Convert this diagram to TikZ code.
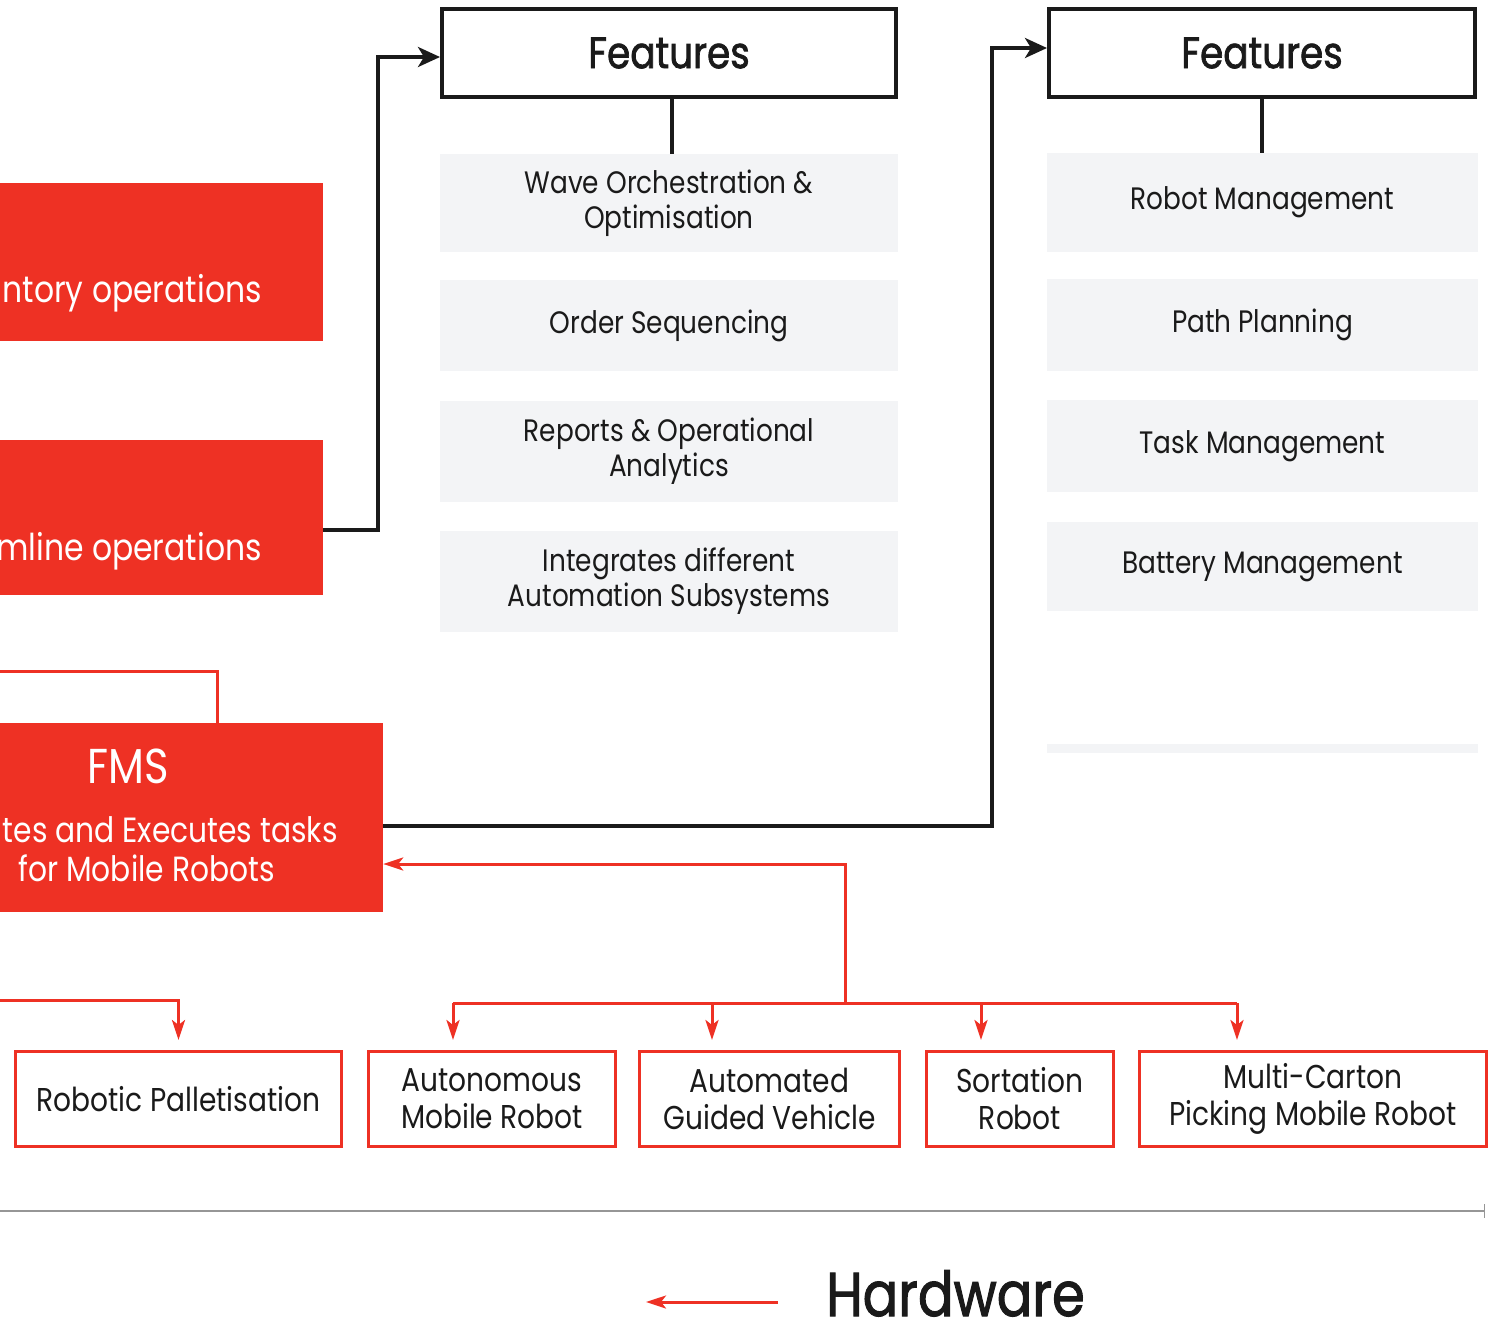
\documentclass[tikz,border=0pt]{standalone}
\usepackage{fontspec}
\setmainfont{Poppins}[FakeStretch=0.85]
\usepackage{tikz}
\usetikzlibrary{arrows.meta,positioning}
\usepackage{xcolor}
\definecolor{fmsred}{RGB}{238,49,36}
\definecolor{featgray}{RGB}{243,244,246}
\definecolor{linkblack}{RGB}{26,26,26}
\definecolor{rulegray}{RGB}{150,150,150}
\newcommand{\demi}{\addfontfeature{FakeBold=1.6}}
\tikzstyle{header} = [rectangle, draw=linkblack, line width=4pt, fill=white, minimum height=88pt, inner sep=0pt, font=\fontsize{44}{50}\selectfont\demi, text=linkblack]
\tikzstyle{feature} = [rectangle, fill=featgray, inner sep=0pt, align=center, font=\fontsize{31}{35}\selectfont, text=linkblack]
\tikzstyle{redblock} = [rectangle, fill=fmsred, inner sep=0pt]
\tikzstyle{redtext} = [inner sep=0pt, text=white, font=\fontsize{37}{40}\selectfont]
\tikzstyle{hwbox} = [rectangle, draw=fmsred, line width=3pt, fill=white, minimum height=95pt, inner sep=0pt, align=center, font=\fontsize{33}{37}\selectfont, text=linkblack]
\tikzstyle{blackarrow} = [line width=3.5pt, draw=linkblack, -{Stealth[length=22pt, width=20pt, inset=6pt]}]
\tikzstyle{redline} = [line width=3pt, draw=fmsred]
\tikzstyle{redarrow} = [redline, -{Stealth[length=20pt, width=13pt, inset=5pt]}]

\begin{document}
\begin{tikzpicture}[x=1pt, y=-1pt]
\useasboundingbox (0,0) rectangle (1490,1326);
\clip (0,0) rectangle (1490,1326);

% Red blocks on the left
\node (inventory) [redblock, minimum width=523pt, minimum height=158pt] at (61.5,262) {};
\node (invlabel) [redtext, anchor=base east] at (262,302) {ntory operations};
\node (streamline) [redblock, minimum width=523pt, minimum height=155pt] at (61.5,517.5) {};
\node (streamlabel) [redtext, anchor=base east] at (262,560) {mline operations};
\node (fms) [redblock, minimum width=583pt, minimum height=189pt] at (91.5,817.5) {};
\node (fmstitle) [redtext, anchor=base, font=\fontsize{49}{50}\selectfont] at (128,783) {FMS};
\node (fmsline1) [redtext, anchor=base east, font=\fontsize{35}{40}\selectfont] at (338,842) {tes and Executes tasks};
\node (fmsline2) [redtext, anchor=base east, font=\fontsize{35}{40}\selectfont] at (275,881) {for Mobile Robots};

% Features of the first system
\node (feat1) [header, minimum width=454pt] at (669,53) {Features};
\node (wave) [feature, minimum width=458pt, minimum height=98pt] at (669,203) {Wave Orchestration \&\\Optimisation};
\node (order) [feature, minimum width=458pt, minimum height=91pt] at (669,325.5) {Order Sequencing};
\node (reports) [feature, minimum width=458pt, minimum height=101pt] at (669,451.5) {Reports \& Operational\\Analytics};
\node (integrates) [feature, minimum width=458pt, minimum height=101pt] at (669,581.5) {Integrates different\\Automation Subsystems};
\draw[line width=4pt, linkblack] ([xshift=3pt]feat1.south) -- ([xshift=3pt]wave.north);

% Features of the FMS
\node (feat2) [header, minimum width=426pt] at (1262,53) {Features};
\node (robotmgmt) [feature, minimum width=431pt, minimum height=99pt] at (1262.5,202.5) {Robot Management};
\node (path) [feature, minimum width=431pt, minimum height=92pt] at (1262.5,325) {Path Planning};
\node (task) [feature, minimum width=431pt, minimum height=92pt] at (1262.5,446) {Task Management};
\node (battery) [feature, minimum width=431pt, minimum height=89pt] at (1262.5,566.5) {Battery Management};
\node (strip) [feature, minimum width=431pt, minimum height=9pt] at (1262.5,748.5) {};
\draw[line width=4pt, linkblack] (feat2.south) -- (feat2.south |- robotmgmt.north);

% Hardware
\node (pallet) [hwbox, minimum width=326pt] at (178.5,1099) {Robotic Palletisation};
\node (amr) [hwbox, minimum width=247pt] at (492,1099) {Autonomous\\Mobile Robot};
\node (agv) [hwbox, minimum width=260pt] at (769.5,1099) {Automated\\Guided Vehicle};
\node (sortation) [hwbox, minimum width=187pt] at (1020,1099) {Sortation\\Robot};
\node (mcp) [hwbox, minimum width=347pt] at (1313,1099) {Multi-Carton\\Picking Mobile Robot};

% Black arrows
\draw[blackarrow] ([yshift=-12.5pt]streamline.east) -- ++(55,0) |- ([yshift=-4pt]feat1.west);
\draw[blackarrow] ([yshift=-8.5pt]fms.east) -- ++(609,0) |- ([yshift=5pt]feat2.west);

% Red arrows
\coordinate (offleft1) at (-10,671);
\coordinate (offleft2) at (-10,1000);
\coordinate (bus) at (845,1003);
\draw[redline] ([xshift=125.5pt]fms.north) |- (offleft1);
\draw[redarrow, shorten >=10pt] (offleft2) -| (pallet.north);
\draw[redarrow] (bus) |- ([yshift=-46.5pt]fms.east);
\draw[redline] ([xshift=-39pt]amr.north |- bus) -- ([xshift=-76pt]mcp.north |- bus);
\draw[redarrow, shorten >=10pt] ([xshift=-39pt]amr.north |- bus) -- ([xshift=-39pt]amr.north);
\draw[redarrow, shorten >=10pt] ([xshift=-57.5pt]agv.north |- bus) -- ([xshift=-57.5pt]agv.north);
\draw[redarrow, shorten >=10pt] ([xshift=-39pt]sortation.north |- bus) -- ([xshift=-39pt]sortation.north);
\draw[redarrow, shorten >=10pt] ([xshift=-76pt]mcp.north |- bus) -- ([xshift=-76pt]mcp.north);

% Legend
\coordinate (rulestart) at (-5,1211);
\coordinate (ruleend) at (1485,1211);
\draw[line width=2pt, rulegray, -{Bar[width=14pt, line width=1.5pt]}] (rulestart) -- (ruleend);
\node (hwlabel) [anchor=base west, inner sep=0pt, text=linkblack, font=\fontsize{62}{62}\selectfont\demi] at (826,1316) {Hardware};
\coordinate (legendstart) at (778,1302);
\coordinate (legendtip) at (646,1302);
\draw[redarrow] (legendstart) -- (legendtip);
\end{tikzpicture}
\end{document}
